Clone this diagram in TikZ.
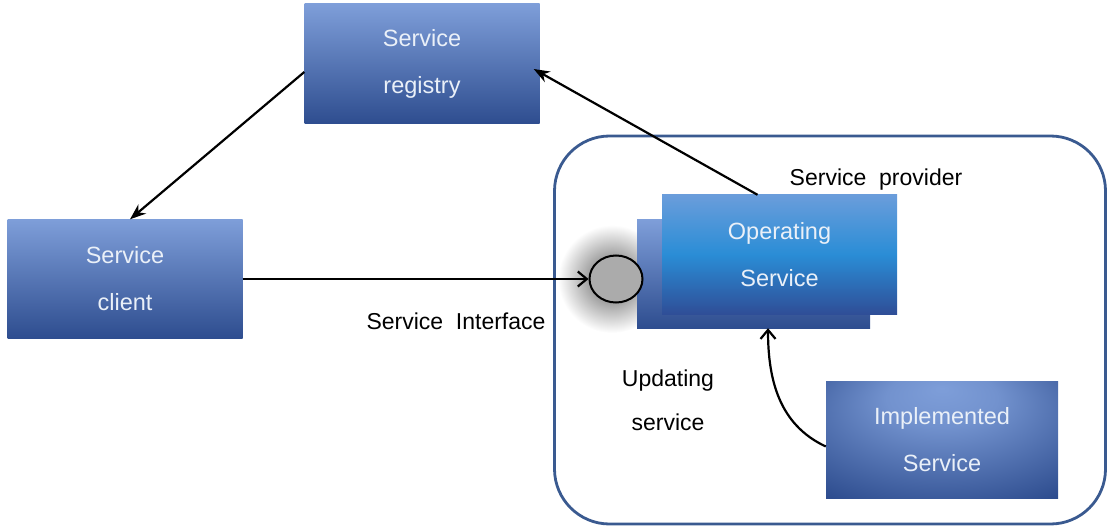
\documentclass[tikz,border=0pt]{standalone}
\usepackage{fontspec}
\setmainfont{Liberation Sans}
\usetikzlibrary{arrows.meta,shapes.geometric}
\definecolor{boxtop}{HTML}{7E9ED9}
\definecolor{boxbot}{HTML}{2E4D8F}
\definecolor{optop}{HTML}{6A9DDB}
\definecolor{opmid}{HTML}{2A8DD6}
\definecolor{opbot}{HTML}{2F4E97}
\definecolor{framec}{HTML}{3A5A90}
\definecolor{txtw}{HTML}{EAF0F8}
\pgfdeclareradialshading{implshade}{\pgfpoint{0bp}{22bp}}{%
  color(0bp)=(boxtop); color(12bp)=(boxtop!85!boxbot); color(40bp)=(boxbot); color(60bp)=(boxbot)}
\tikzset{
  sbox/.style={rectangle, inner sep=0pt, top color=boxtop, bottom color=boxbot,
    text=txtw, align=center, font=\fontsize{23.5}{47}\selectfont},
  opbox/.style={rectangle, inner sep=0pt, top color=optop, bottom color=opbot, middle color=opmid,
    text=txtw, align=center, font=\fontsize{23.5}{47}\selectfont},
  lbl/.style={inner sep=0pt, align=center, font=\fontsize{23}{44}\selectfont},
  arr/.style={-{Stealth[length=16pt,width=12pt]}, line width=2.2pt, black},
  barb/.style={-{Straight Barb[length=9pt,width=15pt,line width=2.2pt]}, line width=2.2pt, black},
}
\begin{document}
\begin{tikzpicture}[x=1pt,y=-1pt]
\useasboundingbox (0,0) rectangle (1107,529);
% glow
\shade[inner color=black!65, outer color=white] (612,279) circle (54);
% provider frame
\node[draw=framec, line width=2.8pt, rounded corners=55pt, minimum width=551pt, minimum height=388pt, inner sep=0pt] (frame) at (830,330) {};
% boxes
\node[sbox, minimum width=235pt, minimum height=120pt] (registry) at (422,64) {Service\\registry};
\node[sbox, minimum width=235pt, minimum height=119pt] (client) at (125,279) {Service\\client};
\node[rectangle, inner sep=0pt, top color=boxtop, bottom color=boxbot, minimum width=233pt, minimum height=108pt] (opback) at (753.5,274) {};
\node[opbox, minimum width=235pt, minimum height=119pt] (opfront) at (779.5,254.5) {Operating\\Service};
\node[rectangle, inner sep=0pt, shading=implshade, minimum width=232pt, minimum height=117pt, text=txtw, align=center, font=\fontsize{23.5}{47}\selectfont] (impl) at (942,439.5) {Implemented\\Service};
\node[ellipse, draw=black, line width=2pt, fill=black!33, minimum width=53pt, minimum height=47pt, inner sep=0pt] (iface) at (616,279) {};
% labels
\node[lbl] (lprov) at (876,180) {Service\ \ provider};
\node[lbl] (lint) at (456,321) {Service\ \ Interface};
\node[lbl] (lupd) at (668,400) {Updating\\service};
% connectors
\draw[arr] ([yshift=-8pt]registry.west) -- ([xshift=5pt]client.north);
\draw[arr] ([xshift=-22pt]opfront.north) -- ([xshift=-6pt,yshift=-5pt]registry.east);
\draw[barb] (client.east) -- (iface.west);
\draw[barb] ([yshift=-7pt]impl.west) to[out=155,in=-90] ([xshift=14.5pt]opback.south);
\end{tikzpicture}
\end{document}
